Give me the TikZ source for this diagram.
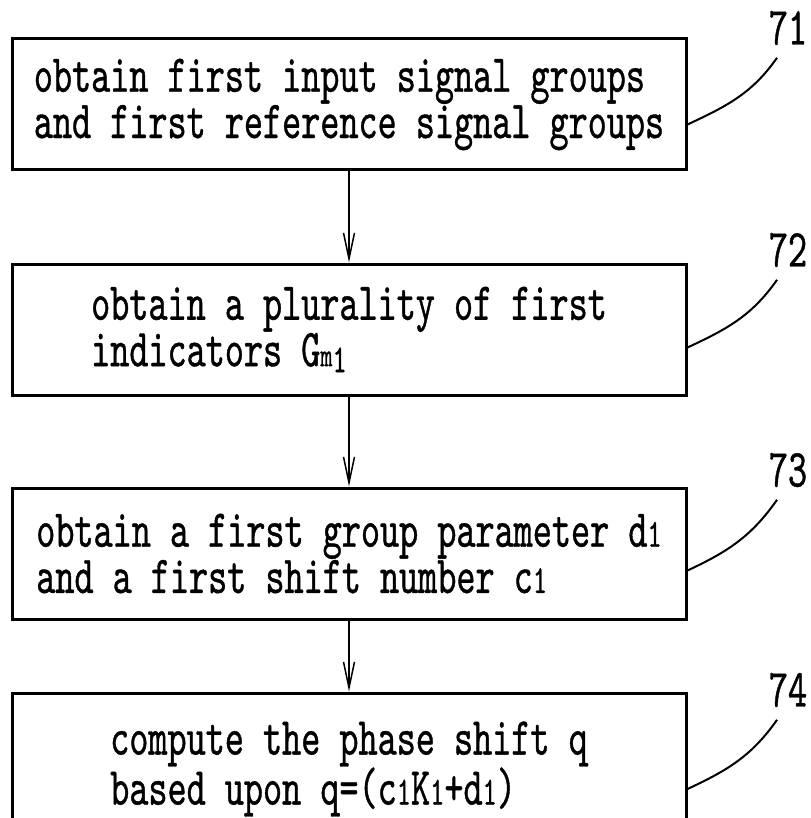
\documentclass[tikz,border=0pt]{standalone}
\usepackage{fontspec}
\usepackage{tikz}
\usetikzlibrary{arrows.meta}
\usetikzlibrary{positioning}
\newfontfamily\patfont{lmmono10-regular.otf}[FakeStretch=0.68,FakeBold=0.7]
\newcommand{\idx}[1]{{\fontsize{40}{40}\selectfont #1}}
\tikzset{
    stepbox/.style={
           rectangle,
           draw=black, line width=3pt,
           minimum width=674pt,
           minimum height=131pt,
           align=left,
           font=\patfont\fontsize{53.5}{45}\selectfont,
           },
    refno/.style={
           font=\patfont\fontsize{53.5}{45}\selectfont,
           inner sep=0pt,
           },
    lead/.style={-, line width=2pt},
}

\begin{document}
\begin{tikzpicture}[x=1pt,y=-1pt,->,>={Straight Barb[length=26pt,width=11pt]},line width=1.5pt]

    \clip (0,0) rectangle (810,818);

    \node[stepbox]
        (S1) at (349,104.5) {obtain first input signal groups\\and first reference signal groups};
    \node[stepbox,below=91pt of S1]
        (S2) {obtain a plurality of first\\indicators G{\fontsize{34}{34}\selectfont m\raisebox{-6pt}{\idx{1}}}};
    \node[stepbox,below=90pt of S2]
        (S3) {obtain a first group parameter d\idx{1}\\and a first shift number c\idx{1}};
    \node[stepbox,below=71pt of S3,minimum height=152pt]
        (S4) {compute the phase shift q\\based upon q=(c\idx{1}K\idx{1}+d\idx{1})};

    \node[refno] (N71) at (788,28)  {71};
    \node[refno] (N72) at (788,250) {72};
    \node[refno] (N73) at (788,470) {73};
    \node[refno] (N74) at (788,690) {74};

    \path (S1) edge (S2);
    \path (S2) edge (S3);
    \path (S3) edge (S4);

    \draw[lead] ([yshift=-20pt]S1.east) to[out=25,in=235] ([xshift=-11pt,yshift=-12pt]N71.south);
    \draw[lead] ([yshift=-18pt]S2.east) to[out=25,in=235] ([xshift=-11pt,yshift=-12pt]N72.south);
    \draw[lead] ([yshift=-17pt]S3.east) to[out=25,in=235] ([xshift=-11pt,yshift=-12pt]N73.south);
    \draw[lead] ([yshift=-20pt]S4.east) to[out=25,in=235] ([xshift=-11pt,yshift=-12pt]N74.south);

\end{tikzpicture}
\end{document}
